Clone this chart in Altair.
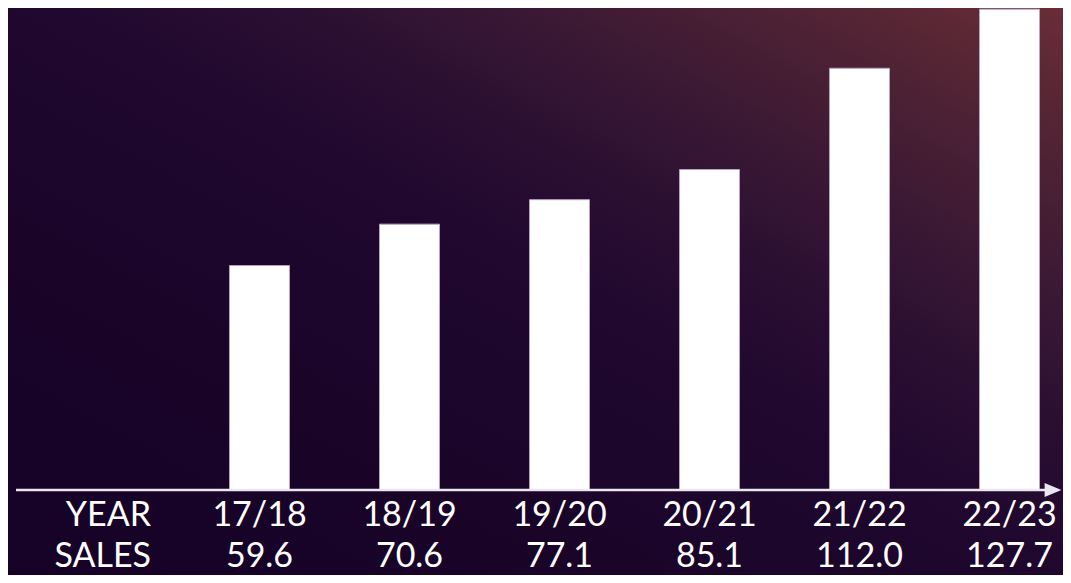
import altair as alt
import pandas as pd

years = ["17/18", "18/19", "19/20", "20/21", "21/22", "22/23"]
sales = [59.6, 70.6, 77.1, 85.1, 112.0, 127.7]
row_labels = ["YEAR", "SALES"]

W, H = 1055, 567
FONT = "Lato"
FS = 34

df = pd.DataFrame({"year": years, "sales": sales})

xscale = alt.Scale(domain=years, range=[176.5, 1076.5], paddingInner=0.6, paddingOuter=0.3)
yscale = alt.Scale(domain=[0, 128], range=[482, 0])

grad = alt.Gradient(
    gradient="linear", x1=0, y1=1, x2=1, y2=0,
    stops=[
        alt.GradientStop(offset=0.0, color="#150226"),
        alt.GradientStop(offset=0.3, color="#1a0529"),
        alt.GradientStop(offset=0.5, color="#1f072e"),
        alt.GradientStop(offset=0.62, color="#290e31"),
        alt.GradientStop(offset=0.75, color="#3b1934"),
        alt.GradientStop(offset=0.9, color="#552534"),
        alt.GradientStop(offset=1.0, color="#6a2d37"),
    ],
)

bg = alt.Chart(alt.Data(values=[{"a": 1}])).mark_rect(fill=grad).encode(
    x=alt.value(0), x2=alt.value(W), y=alt.value(0), y2=alt.value(H)
)

bars = alt.Chart(df).mark_bar(color="#ffffff", stroke="#b9a3c3", strokeWidth=1).encode(
    x=alt.X("year:N", scale=xscale, axis=None, sort=years),
    y=alt.Y("sales:Q", scale=yscale, axis=None),
)

axis_line = alt.Chart(alt.Data(values=[{"a": 1}])).mark_rule(
    color="#ece6f0", strokeWidth=2.5
).encode(x=alt.value(8), x2=alt.value(1040), y=alt.value(482))

arrow = alt.Chart(alt.Data(values=[{"a": 1}])).mark_point(
    shape="M-1.2,-1L1.2,0L-1.2,1Z", filled=True, opacity=1, color="#ece6f0", size=196
).encode(x=alt.value(1045), y=alt.value(482))

year_text = alt.Chart(df).mark_text(
    font=FONT, fontSize=FS, color="#ffffff", baseline="alphabetic", align="center"
).encode(
    x=alt.X("year:N", scale=xscale, axis=None, sort=years),
    y=alt.value(518),
    text="year:N",
)

sales_text = alt.Chart(df).mark_text(
    font=FONT, fontSize=FS, color="#ffffff", baseline="alphabetic", align="center"
).encode(
    x=alt.X("year:N", scale=xscale, axis=None, sort=years),
    y=alt.value(559),
    text=alt.Text("sales:Q", format=".1f"),
)

hdr1 = alt.Chart(alt.Data(values=[{"t": row_labels[0]}])).mark_text(
    font=FONT, fontSize=FS, color="#ffffff", baseline="alphabetic", align="right"
).encode(x=alt.value(143), y=alt.value(518), text="t:N")

hdr2 = alt.Chart(alt.Data(values=[{"t": row_labels[1]}])).mark_text(
    font=FONT, fontSize=FS, color="#ffffff", baseline="alphabetic", align="right"
).encode(x=alt.value(143), y=alt.value(559), text="t:N")

chart = alt.layer(bg, bars, axis_line, arrow, year_text, sales_text, hdr1, hdr2).properties(
    width=W, height=H, autosize=alt.AutoSizeParams(type="none"), padding=0,
    background="#1a0529",
).configure_view(stroke=None)

chart.save("out.html", embed_options={"renderer": "svg", "actions": False})
